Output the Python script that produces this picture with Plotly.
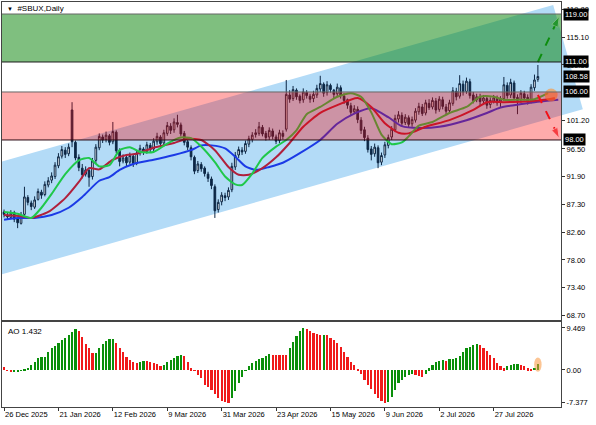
import math
import plotly.graph_objects as go

# daily bars, bar 0 = 26 Dec 2025 (one bar per trading day)
OPEN = [86.0, 85.5, 85.1, 85.9, 84.9, 84.1, 85.6, 88.4, 87.5, 86.8,
        88.1, 89.3, 88.9, 90.5, 91.3, 91.9, 93.7, 95.3, 96.3, 95.7,
        103.0, 97.6, 95.1, 93.3, 92.3, 92.9, 91.9, 94.6, 96.7, 98.5,
        98.1, 98.7, 97.7, 99.3, 96.1, 94.5, 95.1, 94.3, 95.3, 94.1,
        95.9, 96.5, 96.1, 97.1, 96.5, 97.7, 98.5, 97.5, 99.1, 100.3,
        99.7, 100.9, 100.5, 99.1, 97.7, 96.7, 95.1, 92.9, 93.9, 93.3,
        92.3, 91.5, 90.2, 86.4, 87.7, 88.7, 88.5, 89.7, 93.5, 95.5,
        96.3, 96.1, 97.3, 98.1, 98.9, 99.1, 100.1, 99.1, 98.5, 99.5,
        98.5, 97.9, 99.1, 99.8, 105.5, 104.9, 106.3, 105.3, 104.7, 105.9,
        105.3, 104.9, 105.5, 106.5, 107.3, 105.9, 107.1, 106.3, 105.7, 106.7,
        105.3, 104.7, 103.7, 102.7, 103.1, 101.3, 99.7, 98.3, 96.5, 95.7,
        96.7, 94.3, 95.5, 97.1, 98.5, 99.7, 101.5, 102.1, 100.9, 101.7,
        100.7, 101.3, 102.7, 103.5, 102.5, 104.1, 103.5, 104.5, 103.1, 104.7,
        103.5, 102.9, 104.1, 106.1, 105.3, 107.3, 106.1, 107.7, 105.5, 104.7,
        105.1, 104.5, 104.9, 103.9, 104.5, 104.9, 104.3, 104.9, 107.1, 105.5,
        107.5, 105.1, 104.7, 105.7, 105.1, 104.5, 106.7, 108.1]
HIGH = [86.4, 86.0, 86.3, 86.2, 85.2, 86.0, 90.2, 88.8, 87.9, 88.6,
        89.9, 89.7, 91.1, 91.8, 92.6, 94.3, 95.8, 97.0, 96.8, 97.4,
        104.3, 97.9, 95.6, 94.0, 93.6, 93.4, 95.0, 97.3, 99.1, 98.9,
        99.4, 99.0, 101.0, 99.6, 96.6, 95.6, 95.4, 95.9, 95.6, 96.3,
        97.2, 96.8, 97.7, 97.5, 98.3, 99.2, 98.8, 99.7, 101.0, 100.8,
        101.6, 102.2, 100.9, 99.5, 98.0, 97.1, 95.4, 94.5, 94.3, 93.6,
        92.7, 91.9, 90.6, 88.1, 89.3, 89.2, 90.1, 94.2, 96.0, 96.9,
        96.8, 97.9, 98.7, 99.3, 99.8, 101.0, 100.5, 99.5, 100.1, 99.9,
        98.9, 99.7, 99.6, 108.0, 106.3, 107.0, 106.6, 105.6, 106.6, 106.3,
        105.7, 106.2, 107.2, 108.7, 107.6, 107.8, 107.4, 106.5, 107.4, 107.1,
        105.8, 104.9, 104.2, 103.8, 103.6, 101.8, 100.2, 98.8, 97.0, 97.4,
        97.1, 95.9, 97.7, 98.9, 100.3, 102.2, 102.8, 102.6, 102.3, 102.1,
        101.9, 103.3, 104.2, 104.0, 104.7, 104.8, 105.1, 105.0, 105.3, 105.2,
        104.0, 104.7, 106.8, 106.7, 108.8, 107.9, 108.4, 108.2, 106.0, 105.7,
        105.7, 105.5, 105.4, 105.1, 105.5, 105.4, 105.3, 108.5, 107.6, 108.2,
        107.9, 105.6, 106.3, 106.2, 105.6, 107.3, 108.9, 110.5]
LOW = [85.1, 84.7, 84.8, 84.3, 83.3, 83.9, 85.3, 87.1, 86.3, 86.5,
       87.9, 88.2, 88.6, 90.1, 90.8, 91.5, 93.3, 94.9, 95.0, 95.3,
       96.8, 94.6, 92.8, 91.6, 91.9, 90.2, 91.4, 94.1, 96.3, 97.5,
       97.6, 97.1, 97.3, 95.8, 93.6, 94.1, 93.6, 93.9, 93.5, 93.8,
       95.4, 95.5, 95.7, 95.9, 96.1, 97.2, 96.8, 97.0, 98.7, 99.0,
       99.2, 100.1, 98.6, 97.1, 96.3, 94.6, 92.3, 92.5, 92.7, 91.9,
       91.0, 89.8, 85.0, 85.9, 87.1, 87.8, 88.0, 89.3, 93.0, 95.0,
       95.5, 95.7, 96.8, 97.6, 98.4, 98.7, 98.6, 97.9, 98.0, 98.1,
       97.3, 97.5, 98.1, 99.4, 104.2, 104.5, 104.7, 104.1, 104.2, 104.9,
       104.2, 104.3, 105.0, 106.0, 105.2, 105.4, 105.9, 105.0, 105.2, 104.9,
       104.0, 103.2, 102.0, 102.3, 100.8, 99.0, 97.8, 95.9, 94.6, 95.2,
       93.3, 93.8, 95.0, 96.6, 98.0, 99.3, 100.9, 100.3, 100.5, 100.0,
       100.2, 100.9, 102.2, 102.0, 102.1, 103.0, 103.1, 102.4, 102.7, 103.1,
       102.2, 102.5, 103.7, 104.6, 104.9, 105.4, 105.7, 104.9, 104.1, 104.3,
       103.7, 104.0, 103.2, 103.3, 104.1, 103.7, 103.5, 104.5, 104.9, 105.0,
       104.6, 102.3, 104.2, 104.6, 103.9, 104.1, 106.2, 107.7]
CLOSE = [85.6, 85.2, 85.8, 84.8, 84.2, 85.5, 88.5, 87.6, 86.9, 88.0,
         89.4, 88.8, 90.6, 91.2, 92.0, 93.8, 95.2, 96.4, 95.6, 96.8,
         97.7, 95.0, 93.4, 92.2, 93.0, 91.8, 94.5, 96.8, 98.6, 98.0,
         98.8, 97.6, 99.4, 96.2, 94.4, 95.0, 94.2, 95.4, 94.0, 95.8,
         96.6, 96.0, 97.2, 96.4, 97.8, 98.6, 97.4, 99.2, 100.4, 99.6,
         101.0, 100.6, 99.0, 97.6, 96.8, 95.2, 92.8, 94.0, 93.2, 92.4,
         91.6, 90.4, 86.2, 87.6, 88.8, 88.4, 89.6, 93.6, 95.4, 96.4,
         96.0, 97.4, 98.2, 98.8, 99.2, 100.2, 99.0, 98.4, 99.6, 98.6,
         97.8, 99.2, 98.6, 105.6, 104.8, 106.4, 105.2, 104.6, 106.0, 105.4,
         104.8, 105.6, 106.6, 107.4, 105.8, 107.2, 106.4, 105.6, 106.8, 105.4,
         104.6, 103.8, 102.6, 103.2, 101.4, 99.6, 98.4, 96.4, 95.6, 96.8,
         94.2, 95.4, 97.2, 98.4, 99.8, 101.6, 102.2, 100.8, 101.8, 100.6,
         101.4, 102.8, 103.6, 102.4, 104.2, 103.4, 104.6, 103.0, 104.8, 103.6,
         102.8, 104.2, 106.2, 105.2, 107.4, 106.0, 107.8, 105.4, 104.6, 105.2,
         104.4, 105.0, 103.8, 104.6, 105.0, 104.2, 104.8, 107.2, 105.4, 107.6,
         105.0, 104.6, 105.8, 105.0, 104.4, 106.8, 108.0, 108.58]

# alligator lines (shifted forward, so they run past the last bar)
LIPS_X = [0, 4, 8, 11, 14, 18, 22, 25, 28, 31, 34, 37, 40, 44, 48, 52, 55, 58, 62, 65,
          68, 70, 73, 76, 80, 83, 86, 89, 93, 98, 102, 105, 108, 111, 114, 117, 119, 122, 126, 131,
          136, 140, 144, 147, 151, 156, 160]
LIPS = [86.0, 85.7, 85.0, 86.7, 89.0, 92.3, 94.6, 95.0, 93.6, 93.8, 96.3, 96.8, 96.0, 96.0, 97.4, 98.4, 98.3, 96.9, 94.3, 91.9,
        90.6, 90.5, 92.4, 95.0, 96.9, 98.0, 99.6, 102.3, 103.5, 105.2, 105.8, 105.2, 102.6, 98.9, 97.3, 97.6, 98.6, 100.4, 101.0, 102.5,
        103.5, 105.2, 105.2, 104.7, 104.7, 104.8, 105.8]
TEETH_X = [0, 5, 8, 13, 18, 22, 25, 28, 32, 36, 39, 44, 50, 54, 58, 62, 66, 69, 72, 76,
           80, 84, 88, 93, 98, 104, 108, 112, 116, 119, 124, 131, 138, 142, 147, 153, 159, 162]
TEETH = [85.5, 85.3, 85.0, 86.0, 88.3, 91.0, 93.3, 93.1, 94.7, 95.5, 95.7, 96.7, 97.5, 98.2, 98.0, 96.3, 93.5, 92.2, 92.2, 93.3,
         95.1, 97.5, 100.2, 102.5, 103.8, 105.0, 103.5, 100.8, 99.2, 99.1, 100.2, 101.3, 103.0, 104.3, 104.3, 104.4, 104.7, 105.0]
JAW_X = [0, 4, 9, 14, 19, 23, 28, 31, 34, 38, 44, 50, 55, 58, 61, 65, 68, 71, 74, 78,
         82, 87, 93, 98, 103, 108, 113, 117, 122, 128, 136, 142, 146, 150, 156, 163]
JAW = [84.7, 85.0, 85.0, 85.5, 86.7, 88.5, 91.2, 91.8, 93.0, 94.0, 94.7, 95.5, 96.3, 97.1, 97.1, 96.6, 95.2, 93.6, 93.0, 93.5,
       94.2, 95.8, 98.0, 100.7, 102.4, 103.3, 101.8, 100.3, 100.0, 100.2, 101.3, 102.5, 103.4, 103.8, 104.3, 104.7]

# awesome oscillator, one value per bar
AO = [0.7, -0.2, -0.5, -0.45, -0.3, -0.1, 0.2, 0.5, 1.1, 1.9,
      2.6, 2.9, 3.0, 4.0, 4.9, 5.4, 6.0, 6.8, 7.3, 7.9,
      8.5, 9.3, 8.7, 7.5, 5.8, 5.0, 3.8, 3.9, 4.9, 5.8,
      6.5, 7.0, 7.1, 6.2, 4.9, 4.0, 3.0, 2.3, 1.7, 1.5,
      1.7, 2.0, 1.95, 1.8, 1.6, 1.3, 1.0, 1.1, 1.7, 2.3,
      2.8, 3.2, 3.4, 3.2, 1.9, 0.4, -0.2, -1.1, -1.9, -3.4,
      -3.8, -4.5, -5.3, -6.4, -7.0, -7.3, -7.5, -6.4, -4.7, -3.0,
      -1.5, -0.2, 0.8, 1.5, 2.0, 2.4, 2.8, 3.2, 3.6, 3.5,
      3.45, 3.4, 3.35, 3.3, 4.9, 6.4, 7.7, 8.7, 9.469, 9.3,
      8.7, 8.3, 8.1, 7.9, 8.0, 7.8, 7.3, 6.8, 6.0, 5.3,
      4.1, 3.0, 1.9, 1.1, 0.15, -1.0, -2.3, -3.4, -4.3, -5.3,
      -6.2, -7.0, -7.377, -7.1, -6.0, -4.5, -3.0, -2.3, -1.5, -1.1,
      -1.0, -1.1, -1.4, -1.5, -0.8, 0.4, 1.1, 1.9, 2.0, 2.2,
      2.1, 2.4, 2.5, 2.6, 3.2, 4.1, 4.9, 5.3, 5.6, 5.8,
      5.7, 5.0, 4.3, 3.5, 2.6, 1.5, 1.0, 0.4, 0.8, 1.1,
      1.3, 1.35, 1.1, 0.8, 0.4, 0.2, 0.5, 1.432]

DATE_IDX = [0, 16, 32, 48, 64, 80, 96, 112, 128, 144]
DATE_LABELS = ["26 Dec 2025", "21 Jan 2026", "12 Feb 2026", "9 Mar 2026", "31 Mar 2026",
               "23 Apr 2026", "15 May 2026", "9 Jun 2026", "2 Jul 2026", "27 Jul 2026"]
PRICE_TICKS = [68.70, 73.40, 78.00, 82.60, 87.30, 91.90, 96.50, 101.20, 110.50, 115.10, 119.80]
AO_TICKS = [-7.377, 0.0, 9.469]

GREEN_ZONE = [111.0, 119.0]
RED_ZONE = [98.0, 106.0]
CHANNEL_X = [0, 161.5]        # bars of the lower channel line anchors
CHANNEL_LOW = [75.7, 101.7]   # prices at those anchors
CHANNEL_WIDTH = 18.8
UP_TARGET = [157, 163.3, 111.0, 118.6]    # bar from, bar to, price from, price to
DOWN_TARGET = [157, 163.3, 105.5, 98.3]

# page geometry
W, H = 596, 425
ML, MR, MT, MB = 2, 35, 2, 18
PW, PH = W - ML - MR, H - MT - MB
X_RANGE = [-0.6, 163.8]
PRICE_RANGE = [68.0, 121.0]
AO_RANGE = [-8.35, 10.83]
MAIN_DOM = [0.215, 1.0]
AO_DOM = [0.0, 0.21]
FONT = "Liberation Sans, Arial, sans-serif"

bars = list(range(len(CLOSE)))


def page_xy(i, p):
    x = ML + (i - X_RANGE[0]) / (X_RANGE[1] - X_RANGE[0]) * PW
    frac = MAIN_DOM[0] + (p - PRICE_RANGE[0]) / (PRICE_RANGE[1] - PRICE_RANGE[0]) * (MAIN_DOM[1] - MAIN_DOM[0])
    return x, MT + (1 - frac) * PH


def paper_xy(pt):
    return (pt[0] - ML) / PW, 1 - (pt[1] - MT) / PH


# regression channel as a rotated rectangle (runs past the price axis like in MT4)
slope = (CHANNEL_LOW[1] - CHANNEL_LOW[0]) / (CHANNEL_X[1] - CHANNEL_X[0])


def ch_low(i):
    return CHANNEL_LOW[0] + slope * (i - CHANNEL_X[0])


lo_left = page_xy(X_RANGE[0], ch_low(X_RANGE[0]))
up_left = page_xy(X_RANGE[0], ch_low(X_RANGE[0]) + CHANNEL_WIDTH)
up_right = page_xy(CHANNEL_X[1], ch_low(CHANNEL_X[1]) + CHANNEL_WIDTH)
dx, dy = up_right[0] - up_left[0], up_right[1] - up_left[1]
n = math.hypot(dx, dy)
ux, uy = dx / n, dy / n
vgap = page_xy(CHANNEL_X[1], ch_low(CHANNEL_X[1]))[1] - up_right[1]
perp = vgap * ux
lo_right = (up_right[0] - uy * perp, up_right[1] + ux * perp)
pts = [paper_xy(p) for p in (lo_left, up_left, up_right, lo_right)]
channel_path = "M " + " L ".join(f"{a:.5f},{b:.5f}" for a, b in pts) + " Z"

fig = go.Figure()

fig.add_trace(go.Candlestick(
    x=bars, open=OPEN, high=HIGH, low=LOW, close=CLOSE,
    increasing=dict(line=dict(color="#0d2745", width=1), fillcolor="#ffffff"),
    decreasing=dict(line=dict(color="#0d2745", width=1), fillcolor="#0d2745"),
    whiskerwidth=0, showlegend=False, hoverinfo="skip", xaxis="x", yaxis="y"))

for xs, ys, col in [(JAW_X, JAW, "#1b3ae6"), (TEETH_X, TEETH, "#b0203c"), (LIPS_X, LIPS, "#1fc84a")]:
    fig.add_trace(go.Scatter(x=xs, y=ys, mode="lines", line=dict(color=col, width=2, shape="spline", smoothing=0.6),
                             showlegend=False, hoverinfo="skip", xaxis="x", yaxis="y"))

# dashed target arrows
for t, col in [(UP_TARGET, "#1a9a1a"), (DOWN_TARGET, "#ee1620")]:
    fig.add_trace(go.Scatter(x=t[:2], y=t[2:], mode="lines+markers",
                             line=dict(color=col, width=2, dash="dash"),
                             marker=dict(symbol="arrow", angleref="previous", size=[0, 11], color=col),
                             cliponaxis=False, showlegend=False, hoverinfo="skip", xaxis="x", yaxis="y"))

fig.add_trace(go.Scatter(x=[160.9], y=[105.5], mode="markers",
                         marker=dict(size=13, color="rgba(250,150,60,0.65)"),
                         showlegend=False, hoverinfo="skip", xaxis="x", yaxis="y"))

ao_colors = ["#f01a1a"] + ["#0a8f0a" if AO[k] > AO[k - 1] else "#f01a1a" for k in range(1, len(AO))]
fig.add_trace(go.Bar(x=bars, y=AO, marker=dict(color=ao_colors, line=dict(width=0)), width=0.62,
                     showlegend=False, hoverinfo="skip", xaxis="x2", yaxis="y2"))

shapes = [
    dict(type="path", path=channel_path, xref="paper", yref="paper",
         fillcolor="#b3dbf7", line=dict(width=0), layer="below"),
    dict(type="rect", xref="paper", yref="y", x0=0, x1=1, y0=RED_ZONE[0], y1=RED_ZONE[1],
         fillcolor="rgba(255,0,0,0.33)", line=dict(width=0), layer="above"),
    dict(type="rect", xref="paper", yref="y", x0=0, x1=1, y0=GREEN_ZONE[0], y1=GREEN_ZONE[1],
         fillcolor="rgba(0,128,0,0.5)", line=dict(width=0), layer="above"),
]
for lvl, col in [(GREEN_ZONE[1], "#666666"), (GREEN_ZONE[0], "#1a1a1a"), (RED_ZONE[1], "#666666"), (RED_ZONE[0], "#2a0a14")]:
    shapes.append(dict(type="line", xref="paper", yref="y", x0=0, x1=1, y0=lvl, y1=lvl,
                       line=dict(color=col, width=1), layer="above"))
last = len(AO) - 1
shapes.append(dict(type="circle", xref="x2", yref="y2", x0=last - 1.1, x1=last + 1.1, y0=-0.4, y1=AO[last] + 1.4,
                   fillcolor="rgba(250,150,60,0.55)", line=dict(width=0), layer="above"))

annotations = []
for v in [GREEN_ZONE[1], GREEN_ZONE[0], CLOSE[-1], RED_ZONE[1], RED_ZONE[0]]:
    annotations.append(dict(xref="paper", x=1, xanchor="left", xshift=2, yref="y", y=v,
                            text=f"{v:.2f}", showarrow=False, bgcolor="#000000", borderpad=1,
                            font=dict(color="#ffffff", size=7.5, family=FONT)))
annotations.append(dict(xref="paper", yref="paper", x=0, y=1, xanchor="left", yanchor="top", xshift=3, yshift=0,
                        text='<span style="font-size:6px">▼</span>  #SBUX,Daily', showarrow=False,
                        font=dict(color="#000000", size=8, family=FONT)))
annotations.append(dict(xref="paper", yref="paper", x=0, y=AO_DOM[1], xanchor="left", yanchor="top", xshift=4, yshift=-3,
                        text=f"AO {AO[-1]:.3f}", showarrow=False, font=dict(color="#000000", size=8, family=FONT)))

axis_common = dict(showgrid=False, zeroline=False, showline=True, mirror=True, linecolor="#444444", linewidth=1,
                   tickfont=dict(size=7.5, color="#000000", family=FONT), tickcolor="#333333", fixedrange=True)

fig.update_layout(
    width=W, height=H,
    margin=dict(l=ML, r=MR, t=MT, b=MB),
    paper_bgcolor="#ffffff", plot_bgcolor="rgba(0,0,0,0)",
    font=dict(family=FONT, size=8, color="#000000"),
    hovermode=False, showlegend=False, bargap=0,
    xaxis=dict(domain=[0, 1], range=X_RANGE, anchor="y", showticklabels=False, ticks="",
               rangeslider=dict(visible=False), **axis_common),
    yaxis=dict(domain=MAIN_DOM, range=PRICE_RANGE, anchor="x", side="right",
               tickvals=PRICE_TICKS, ticktext=[f"{v:.2f}" for v in PRICE_TICKS],
               ticks="outside", ticklen=3, **axis_common),
    xaxis2=dict(domain=[0, 1], range=X_RANGE, anchor="y2", tickvals=DATE_IDX, ticktext=DATE_LABELS,
                ticks="outside", ticklen=3, ticklabelposition="outside right", **axis_common),
    yaxis2=dict(domain=AO_DOM, range=AO_RANGE, anchor="x2", side="right",
                tickvals=AO_TICKS, ticktext=["-7.377", "0.00", "9.469"],
                ticks="outside", ticklen=3, **axis_common),
    shapes=shapes,
    annotations=annotations,
)

# the page body has a default 8px margin; drop it so the figure sits at the window corner
fig.write_html("out.html", config={"displayModeBar": False},
               post_script="document.body.style.margin='0';")
